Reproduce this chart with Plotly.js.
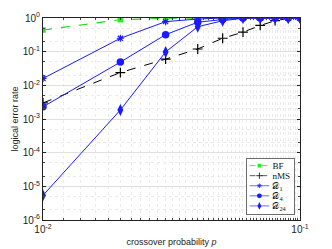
<!DOCTYPE html>
<html><head><meta charset="utf-8">
<script src="https://cdn.plot.ly/plotly-3.0.1.min.js"></script>
<style>html,body{margin:0;padding:0;background:#fff}#c{width:332px;height:249px}</style>
</head><body><div id="c"></div>
<script>
const p = [0.01, 0.02, 0.03, 0.04, 0.05, 0.06, 0.07, 0.08, 0.09, 0.1];
const bf   = [0.44, 0.89, 0.98, 1.0, 1.0, 1.0, 1.0, 1.0, 1.0, 1.0];
const nms  = [3.0e-3, 0.024, 0.06, 0.12, 0.25, 0.38, 0.6, 0.83, 0.97, 1.0];
const d1   = [0.016, 0.25, 0.78, 0.93, 1.0, 1.0, 1.0, 1.0, 1.0, 1.0];
const d4   = [2.3e-3, 0.049, 0.32, 0.75, 0.9, 1.0, 1.0, 1.0, 1.0, 1.0];
const d24  = [5.4e-6, 1.85e-3, 0.098, 0.55, 0.83, 0.98, 1.0, 1.0, 1.0, 1.0];
const seriesNames = ['BF', 'nMS', '𝒟<sub>1</sub>', '𝒟<sub>4</sub>', '𝒟<sub>24</sub>'];
const yTickVals = [1e-6, 1e-5, 1e-4, 1e-3, 1e-2, 1e-1, 1];
const yTickText = ['10<sup>-6</sup>','10<sup>-5</sup>','10<sup>-4</sup>','10<sup>-3</sup>','10<sup>-2</sup>','10<sup>-1</sup>','10<sup>0</sup>'];
const xTickVals = [0.01, 0.1];
const xTickText = ['10<sup>-2</sup>','10<sup>-1</sup>'];

const blue = '#1a1aff';
const traces = [
  {x:p, y:bf, name:seriesNames[0], mode:'lines+markers',
   line:{color:'#22dd22', dash:'dash', width:1.2}, marker:{symbol:'square', size:5.5, color:'#22ee22'}},
  {x:p, y:nms, name:seriesNames[1], mode:'lines+markers',
   line:{color:'#000', dash:'dash', width:1}, marker:{symbol:'cross-thin', size:7, line:{color:'#000', width:1.2}}},
  {x:p, y:d1, name:seriesNames[2], mode:'lines+markers',
   line:{color:blue, width:1}, marker:{symbol:'asterisk-open', size:6, line:{color:blue, width:1.2}}},
  {x:p, y:d4, name:seriesNames[3], mode:'lines+markers',
   line:{color:blue, width:1}, marker:{symbol:'circle', size:7.5, color:blue}},
  {x:p, y:d24, name:seriesNames[4], mode:'lines+markers',
   line:{color:blue, width:1}, marker:{symbol:'diamond-tall', size:8.5, color:blue}}
];

const axBase = {
  showline:true, linecolor:'#222', linewidth:1, mirror:'ticks', ticks:'inside', ticklen:3, tickcolor:'#222',
  showgrid:true, gridcolor:'#e0e0e0', gridwidth:1, zeroline:false,
  tickfont:{family:'Liberation Sans, Arial, sans-serif', size:10, color:'#222'},
  minor:{showgrid:true, gridcolor:'#ebebeb', griddash:'dot', ticks:'inside', ticklen:2, tickcolor:'#444'}
};
const layout = {
  width:332, height:249, margin:{l:43, r:32, t:18, b:29},
  paper_bgcolor:'#fff', plot_bgcolor:'#fff', showlegend:true,
  xaxis:Object.assign({}, axBase, {type:'log', range:[-2,-1], tickvals:xTickVals, ticktext:xTickText,
    title:{text:'crossover probability <i>p</i>', font:{family:'Liberation Sans, Arial, sans-serif', size:9, color:'#222'}, standoff:4}}),
  yaxis:Object.assign({}, axBase, {type:'log', range:[-6,0], tickvals:yTickVals, ticktext:yTickText,
    title:{text:'logical error rate', font:{family:'Liberation Sans, Arial, sans-serif', size:9, color:'#222'}, standoff:2}}),
  legend:{x:0.985, y:0.03, xanchor:'right', yanchor:'bottom', bgcolor:'#fff', bordercolor:'#444', borderwidth:1.2,
    font:{family:'Liberation Serif, DejaVu Serif, serif', size:14, color:'#111'}, tracegroupgap:0, itemwidth:30}
};
Plotly.newPlot('c', traces, layout, {staticPlot:true, displayModeBar:false}).then(function(gd){
  const leg = gd.querySelector('g.legend');
  if (!leg) return;
  const bb0 = leg.getBBox();
  const targetW = 48, targetH = 56, right = 294, bottom = 214;
  const s = targetW / bb0.width;
  const k = (targetH / s) / bb0.height;
  leg.querySelectorAll('g.traces').forEach(function(t){
    const m = /translate\(\s*([-\d.e]+)[ ,]+([-\d.e]+)\s*\)/.exec(t.getAttribute('transform') || '');
    if (m) t.setAttribute('transform', 'translate(' + m[1] + ',' + (parseFloat(m[2]) * k) + ')');
  });
  leg.querySelectorAll('rect.bg').forEach(function(r){
    r.setAttribute('height', parseFloat(r.getAttribute('height')) * k);
  });
  const bb = leg.getBBox();
  leg.setAttribute('transform', 'translate(' + (right - (bb.x + bb.width) * s) + ',' + (bottom - (bb.y + bb.height) * s) + ') scale(' + s + ')');
});
</script></body></html>
